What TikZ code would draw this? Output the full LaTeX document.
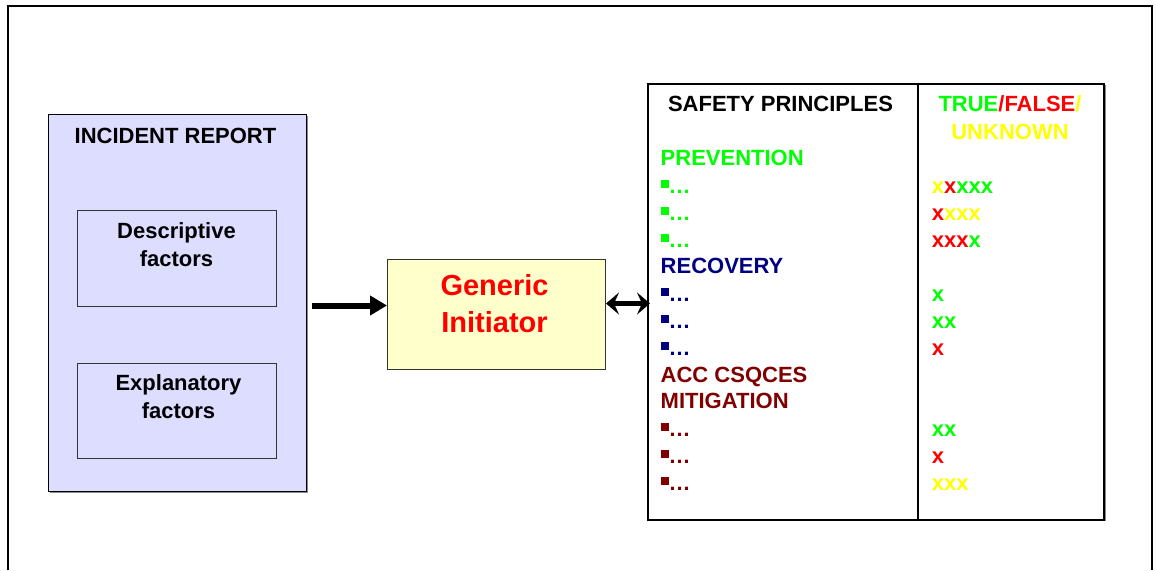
\documentclass[tikz,border=0pt]{standalone}
\usepackage{fontspec}
\setmainfont{Liberation Sans}
\usetikzlibrary{arrows.meta}
\definecolor{lgreen}{RGB}{0,255,0}
\definecolor{lred}{RGB}{255,0,0}
\definecolor{lyel}{RGB}{255,255,0}
\definecolor{navyc}{RGB}{0,0,128}
\definecolor{maroonc}{RGB}{128,0,0}
\definecolor{lav}{RGB}{221,221,255}
\definecolor{cream}{RGB}{255,255,204}
\newcommand\bulitem{\rule[5pt]{8pt}{8pt}…}
\tikzset{
  txt/.style={font=\bfseries\fontsize{22}{28}\selectfont, inner sep=0pt},
  item/.style={txt, anchor=base west},
  box/.style={draw=black!80, line width=1pt, anchor=north west, inner sep=0pt},
  shadowbox/.style={fill=black!45, draw=none, anchor=north west, inner sep=0pt},
}
\begin{document}
\begin{tikzpicture}[x=1pt,y=-1pt]
\useasboundingbox (0,0) rectangle (1156,570);
\fill[white] (0,0) rectangle (1156,570);
% outer frame
\draw[line width=2pt] (8.3,570) -- (8.3,5.7) -- (1151.7,5.7) -- (1151.7,570);

% incident report
\node[shadowbox, minimum width=258pt, minimum height=377pt] at (49.5,115.5) {};
\node[box, draw=black, line width=1.4pt, fill=lav, minimum width=258pt, minimum height=377pt] (inc) at (47.5,113.5) {};
\node[txt, anchor=base] (inct) at (175.5,143) {INCIDENT REPORT};
\node[box, minimum width=199pt, minimum height=96pt] (desc) at (77,209.5) {};
\node[txt, align=center, anchor=base] (desct) at (176.5,266) {Descriptive\\factors};
\node[box, minimum width=199pt, minimum height=95pt] (expl) at (77,362.5) {};
\node[txt, align=center, anchor=base] (explt) at (178.5,418) {Explanatory\\factors};

% generic initiator
\node[box, fill=cream, minimum width=218pt, minimum height=110pt] (gen) at (387,258.7) {};
\node[txt, font=\bfseries\fontsize{29}{37}\selectfont, text=lred, align=center, anchor=base] (gent) at (494.5,332) {Generic\\Initiator};

% table
\node[shadowbox, minimum width=457pt, minimum height=436pt] at (648.7,84.7) {};
\node[box, draw=black, line width=2pt, fill=white, minimum width=456pt, minimum height=436pt] (tab) at (646.7,82.7) {};
\draw[line width=2pt] (917.7,82.7) -- (917.7,518.5);

% arrows
\coordinate (a1) at (312,305.5);
\draw[line width=6pt, -{Triangle[length=17pt,width=19pt]}] (a1) -- (gen.west |- a1);
\coordinate (a2) at (650,303.5);
\draw[line width=5.5pt, {Stealth[length=13pt,width=22pt,inset=5pt]}-{Stealth[length=13pt,width=22pt,inset=5pt]}] (gen.east |- a2) -- (a2);

% table headers
\node[txt, anchor=base] (sp) at (780.5,111) {SAFETY PRINCIPLES};
\node[txt, anchor=base] (tf) at (1010,111) {\color{lgreen}TRUE\color{lred}/FALSE\color{lyel}/};
\node[txt, anchor=base, text=lyel] (uk) at (1010,139) {UNKNOWN};

% left column
\node[item, text=lgreen] (prev) at (660.5,165) {PREVENTION};
\node[item, text=lgreen] (p1) at (660.5,193) {\bulitem};
\node[item, text=lgreen] (p2) at (660.5,220) {\bulitem};
\node[item, text=lgreen] (p3) at (660.5,247) {\bulitem};
\node[item, text=navyc] (rec) at (660.5,273) {RECOVERY};
\node[item, text=navyc] (r1) at (660.5,301) {\bulitem};
\node[item, text=navyc] (r2) at (660.5,328) {\bulitem};
\node[item, text=navyc] (r3) at (660.5,355) {\bulitem};
\node[item, text=maroonc] (acc) at (660.5,382) {ACC CSQCES};
\node[item, text=maroonc] (mit) at (660.5,408) {MITIGATION};
\node[item, text=maroonc] (m1) at (660.5,436) {\bulitem};
\node[item, text=maroonc] (m2) at (660.5,463) {\bulitem};
\node[item, text=maroonc] (m3) at (660.5,490) {\bulitem};

% right column
\node[item] (x1) at (931.7,193) {\color{lyel}x\color{lred}x\color{lgreen}xxx};
\node[item] (x2) at (931.7,220) {\color{lred}x\color{lyel}xxx};
\node[item] (x3) at (931.7,247) {\color{lred}xxx\color{lgreen}x};
\node[item, text=lgreen] (x4) at (931.7,301) {x};
\node[item, text=lgreen] (x5) at (931.7,328) {xx};
\node[item, text=lred] (x6) at (931.7,355) {x};
\node[item, text=lgreen] (x7) at (931.7,436) {xx};
\node[item, text=lred] (x8) at (931.7,463) {x};
\node[item, text=lyel] (x9) at (931.7,490) {xxx};
\end{tikzpicture}
\end{document}
